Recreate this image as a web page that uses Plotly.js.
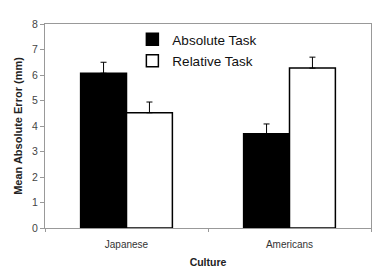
<!DOCTYPE html>
<html><head><meta charset="utf-8">
<script src="https://cdn.plot.ly/plotly-3.0.1.min.js"></script>
<style>html,body{margin:0;padding:0;background:#fff}</style>
</head><body><div id="chart" style="width:381px;height:273px"></div>
<script>
var categories = ["Japanese", "Americans"];
var absoluteVals = [6.07, 3.70];
var absoluteErr = [0.43, 0.38];
var relativeVals = [4.52, 6.27];
var relativeErr = [0.42, 0.43];
var yTicks = [0,1,2,3,4,5,6,7,8];

var traces = [
  {type:'bar', name:'Absolute Task', x:categories, y:absoluteVals, legendgroup:'a',
   marker:{color:'#000', line:{color:'#000', width:1.5}},
   error_y:{type:'data', symmetric:false, array:absoluteErr, arrayminus:[0,0], color:'#000', thickness:1, width:3}},
  {type:'bar', name:'Relative Task', x:categories, y:relativeVals, legendgroup:'b',
   marker:{color:'#fff', line:{color:'#000', width:1.5}},
   error_y:{type:'data', symmetric:false, array:relativeErr, arrayminus:[0,0], color:'#000', thickness:1, width:3}}
];
var layout = {
  width:381, height:273,
  margin:{l:45, r:10, t:24, b:45},
  paper_bgcolor:'#fff', plot_bgcolor:'#fff',
  font:{family:'Arial, Liberation Sans, sans-serif', color:'#222'},
  barmode:'group', bargap:0.437, bargroupgap:0,
  showlegend:true,
  legend:{x:0.268, y:1.0, xanchor:'left', yanchor:'top', bgcolor:'rgba(0,0,0,0)',
          font:{size:13.5, color:'#111'}, tracegroupgap:1, itemwidth:30},
  xaxis:{showline:true, mirror:true, linecolor:'#999', linewidth:1,
         ticks:'outside', tickson:'boundaries', ticklen:3, tickcolor:'#999',
         ticklabelstandoff:7,
         tickfont:{size:10, color:'#333'},
         title:{text:'<b>Culture</b>', font:{size:10.5, color:'#222'}, standoff:9}},
  yaxis:{range:[0,8], tickvals:yTicks, showgrid:false, zeroline:false,
         showline:true, mirror:true, linecolor:'#999', linewidth:1,
         ticks:'outside', ticklen:4, tickcolor:'#999',
         tickfont:{size:10.5, color:'#444'},
         title:{text:'<b>Mean Absolute Error (mm)</b>', font:{size:11, color:'#222'}, standoff:7}}
};
Plotly.newPlot('chart', traces, layout, {displayModeBar:false, staticPlot:true});
</script></body></html>
